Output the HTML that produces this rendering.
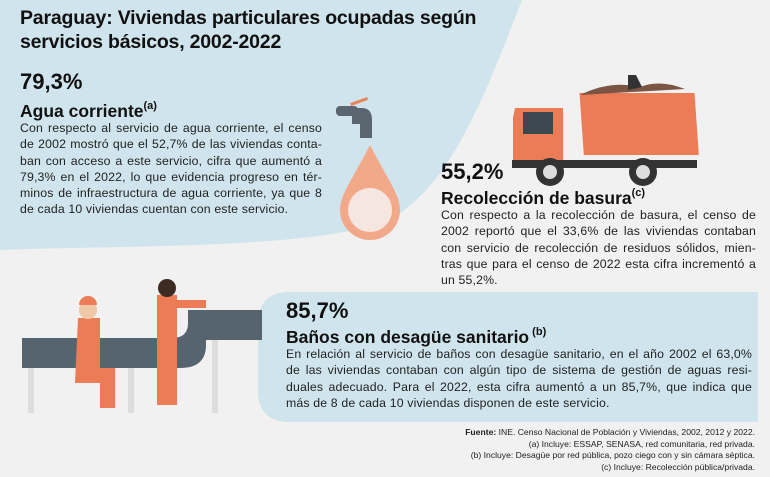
<!DOCTYPE html>
<html><head><meta charset="utf-8">
<style>
*{margin:0;padding:0;box-sizing:border-box}
body{width:770px;height:477px;background:#f1f1f1;position:relative;overflow:hidden;font-family:"Liberation Sans",sans-serif;color:#111}
.a{position:absolute}
h1{font-size:19.5px;line-height:24px;font-weight:bold;letter-spacing:-0.2px}
.pct{font-size:22px;font-weight:bold;line-height:24px}
.hd{font-size:17.5px;font-weight:bold;line-height:22px}
.hd sup{font-size:11px;font-weight:bold;vertical-align:8px}
.p{font-size:12.3px;line-height:16.3px;color:#222;letter-spacing:0.15px}
.p span{display:block;white-space:nowrap;text-align:justify;text-align-last:justify}
.p span.l{text-align-last:left}
.ft{font-size:8.6px;line-height:11.5px;text-align:right;color:#222}
</style></head><body>
<svg class="a" style="left:0;top:0" width="770" height="477">
<path d="M0 0H522C485 95 450 190 385 222C300 250 120 245 0 250Z" fill="#cfe4ec"/>
<path d="M290 292H758V422H290Q258 422 258 390V324Q258 292 290 292Z" fill="#cfe4ec"/>
<g><rect x="336" y="106" width="22" height="10" rx="4" fill="#5a6570"/><path d="M352 108h10q10 0 10 12v18h-12v-14h-8z" fill="#5a6570"/><rect x="350" y="100" width="18" height="3" fill="#e8845a" transform="rotate(-20 359 101)"/>
<path d="M370 145C388 180 400 195 400 210A30 30 0 0 1 340 210C340 195 352 180 370 145Z" fill="#f1a98a"/><circle cx="370" cy="210" r="22" fill="#f5e6e2"/></g>
<g><rect x="573" y="93" width="115" height="62" fill="#ec7c55" transform="skewX(4)"/>
<path d="M580 95q30-15 60-8q20-8 45 2z" fill="#7a5544"/><path d="M628 75l8 0l6 12l-14 3z" fill="#333"/>
<path d="M515 108h48v55h-50v-45z" fill="#ec7c55"/><rect x="523" y="112" width="30" height="22" fill="#3c4850"/>
<rect x="512" y="160" width="185" height="8" fill="#333"/>
<circle cx="550" cy="172" r="14" fill="#333"/><circle cx="550" cy="172" r="7" fill="#ddd"/>
<circle cx="643" cy="172" r="14" fill="#333"/><circle cx="643" cy="172" r="7" fill="#ddd"/></g>
<g><rect x="22" y="338" width="150" height="30" fill="#566470"/>
<path d="M150 338H172Q188 338 188 323V310H262V340H206V345Q206 368 180 368H150Z" fill="#566470"/>
<rect x="28" y="368" width="6" height="45" fill="#ddd"/><rect x="128" y="368" width="6" height="45" fill="#ddd"/><rect x="212" y="340" width="6" height="73" fill="#ddd"/>
<rect x="157" y="295" width="20" height="110" fill="#ec7c55"/><circle cx="167" cy="288" r="9" fill="#3d2a22"/><rect x="176" y="300" width="30" height="8" fill="#ec7c55"/>
<path d="M78 318h22v50h15v40h-15v-25h-25z" fill="#ec7c55"/><circle cx="88" cy="310" r="9" fill="#f0c8a8"/><path d="M79 305a9 9 0 0 1 18 0z" fill="#ec7c55"/></g>
</svg>
<h1 class="a" style="left:20px;top:6px;width:520px">Paraguay: Viviendas particulares ocupadas según servicios básicos, 2002-2022</h1>
<div class="a pct" style="left:20px;top:70px">79,3%</div>
<div class="a hd" style="left:20px;top:95px">Agua corriente<sup>(a)</sup></div>
<div class="a p" style="left:20px;top:120px;width:302px"><span>Con respecto al servicio de agua corriente, el censo</span><span>de 2002 mostró que el 52,7% de las viviendas conta-</span><span>ban con acceso a este servicio, cifra que aumentó a</span><span>79,3% en el 2022, lo que evidencia progreso en tér-</span><span>minos de infraestructura de agua corriente, ya que 8</span><span class="l">de cada 10 viviendas cuentan con este servicio.</span></div>
<div class="a pct" style="left:441px;top:160px">55,2%</div>
<div class="a hd" style="left:441px;top:182px">Recolección de basura<sup>(c)</sup></div>
<div class="a p" style="left:441px;top:207px;width:315px"><span>Con respecto a la recolección de basura, el censo de</span><span>2002 reportó que el 33,6% de las viviendas contaban</span><span>con servicio de recolección de residuos sólidos, mien-</span><span>tras que para el censo de 2022 esta cifra incrementó a</span><span class="l">un 55,2%.</span></div>
<div class="a pct" style="left:286px;top:299px">85,7%</div>
<div class="a hd" style="left:286px;top:321px">Baños con desagüe sanitario<sup> (b)</sup></div>
<div class="a p" style="left:286px;top:346px;width:466px"><span>En relación al servicio de baños con desagüe sanitario, en el año 2002 el 63,0%</span><span>de las viviendas contaban con algún tipo de sistema de gestión de aguas resi-</span><span>duales adecuado. Para el 2022, esta cifra aumentó a un 85,7%, que indica que</span><span class="l">más de 8 de cada 10 viviendas disponen de este servicio.</span></div>
<div class="a ft" style="right:15px;top:427px;width:500px"><b>Fuente:</b> INE. Censo Nacional de Población y Viviendas, 2002, 2012 y 2022.<br>(a) Incluye: ESSAP, SENASA, red comunitaria, red privada.<br>(b) Incluye: Desagüe por red pública, pozo ciego con y sin cámara séptica.<br>(c) Incluye: Recolección pública/privada.</div>
</body></html>
